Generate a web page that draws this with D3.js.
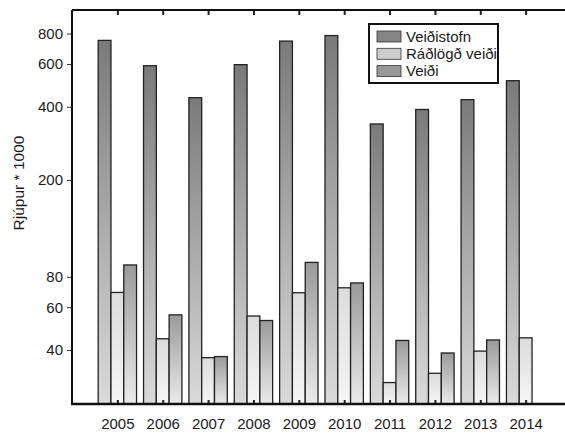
<!DOCTYPE html>
<html><head><meta charset="utf-8">
<script src="https://cdn.jsdelivr.net/npm/d3@7"></script>
<style>body{margin:0;background:#fff}svg{display:block}text{font-family:Arial,"Liberation Sans",sans-serif;fill:#1a1a1a}</style>
</head><body><div id="c"></div>
<script>
const years = [2005,2006,2007,2008,2009,2010,2011,2012,2013,2014];
const veidistofn = [750,590,436,596,745,785,340,390,428,512];
const radlogd = [69,44.5,37.2,55.2,68.8,72.1,29.4,32.1,39.6,44.9];
const veidi = [89.5,55.8,37.6,52.9,91.7,75.5,43.8,38.9,44.0,null];
const seriesNames = ["Veiðistofn","Ráðlögð veiði","Veiði"];
const yTicks = [40,60,80,200,400,600,800];

const W=565,H=434;
const svg=d3.select("#c").append("svg").attr("width",W).attr("height",H);
const defs=svg.append("defs");
const grads=[["g0","#7a7a7a","#dadada"],["g1","#dcdcdc","#f6f6f6"],["g2","#9a9a9a","#ebebeb"]];
grads.forEach(([id,a,b])=>{
  const g=defs.append("linearGradient").attr("id",id).attr("x1",0).attr("y1",0).attr("x2",0).attr("y2",1);
  g.append("stop").attr("offset","0%").attr("stop-color",a);
  g.append("stop").attr("offset","100%").attr("stop-color",b);
});
const L=72,T=10,B=404,R=565;
const x=d3.scaleLinear().domain([2004,2015]).range([L,571]);
const y=d3.scaleLog().domain([24,1000]).range([B,T]);
const step=x(2005)-x(2004);
const bw=step*0.282;
const series=[veidistofn,radlogd,veidi];
series.forEach((s,i)=>{
  svg.append("g").selectAll("rect").data(years.map((yr,j)=>({yr,v:s[j]})).filter(d=>d.v!=null))
    .join("rect")
    .attr("x",d=>x(d.yr)+(i-1.5)*bw)
    .attr("y",d=>y(d.v))
    .attr("width",bw)
    .attr("height",d=>B-y(d.v))
    .attr("fill",`url(#g${i})`)
    .attr("stroke","#222").attr("stroke-width",1.3);
});
const font="Arial, 'Liberation Sans', sans-serif";
// left axis
const ya=svg.append("g").attr("transform",`translate(${L},0)`)
  .call(d3.axisLeft(y).tickValues(yTicks).tickFormat(d3.format("d")).tickSize(5).tickPadding(4));
ya.select(".domain").remove();
ya.selectAll("line").attr("stroke","#333");
ya.selectAll("text").attr("font-size","15px").style("font-family",font).attr("fill","#1a1a1a");
// bottom axis
const xa=svg.append("g").attr("transform",`translate(0,${B})`)
  .call(d3.axisBottom(x).tickValues(years).tickFormat(d3.format("d")).tickSize(-4).tickPadding(14));
xa.select(".domain").remove();
xa.selectAll("line").attr("stroke","#222").attr("stroke-width",2);
xa.selectAll("text").attr("font-size","15px").style("font-family",font).attr("fill","#1a1a1a");
// top ticks
const ta=svg.append("g").attr("transform",`translate(0,${T})`)
  .call(d3.axisTop(x).tickValues(years).tickFormat("").tickSize(-5));
ta.select(".domain").remove();
ta.selectAll("line").attr("stroke","#222").attr("stroke-width",2);
// frame lines
svg.append("line").attr("x1",L).attr("x2",L).attr("y1",T).attr("y2",B).attr("stroke","#111").attr("stroke-width",2);
svg.append("line").attr("x1",L).attr("x2",R).attr("y1",T).attr("y2",T).attr("stroke","#111").attr("stroke-width",2);
svg.append("line").attr("x1",L-1).attr("x2",R).attr("y1",B).attr("y2",B).attr("stroke","#111").attr("stroke-width",2.5);
// y label
svg.append("text").attr("transform","translate(24,183) rotate(-90)").attr("text-anchor","middle")
  .attr("font-size","15.5px").text("Rjúpur * 1000");
// legend
const lg=svg.append("g");
lg.append("rect").attr("x",369).attr("y",24).attr("width",129).attr("height",59).attr("fill","#fff").attr("stroke","#111").attr("stroke-width",2);
const swc=["#858585","#cdcdcd","#989898"];
seriesNames.forEach((n,i)=>{
  lg.append("rect").attr("x",377).attr("y",31+i*17.3).attr("width",24).attr("height",11).attr("fill",swc[i]).attr("stroke","#333").attr("stroke-width",0.8);
  lg.append("text").attr("x",406).attr("y",36.5+i*17.3).attr("dy","0.35em").attr("font-size","15px").text(n);
});
</script></body></html>
